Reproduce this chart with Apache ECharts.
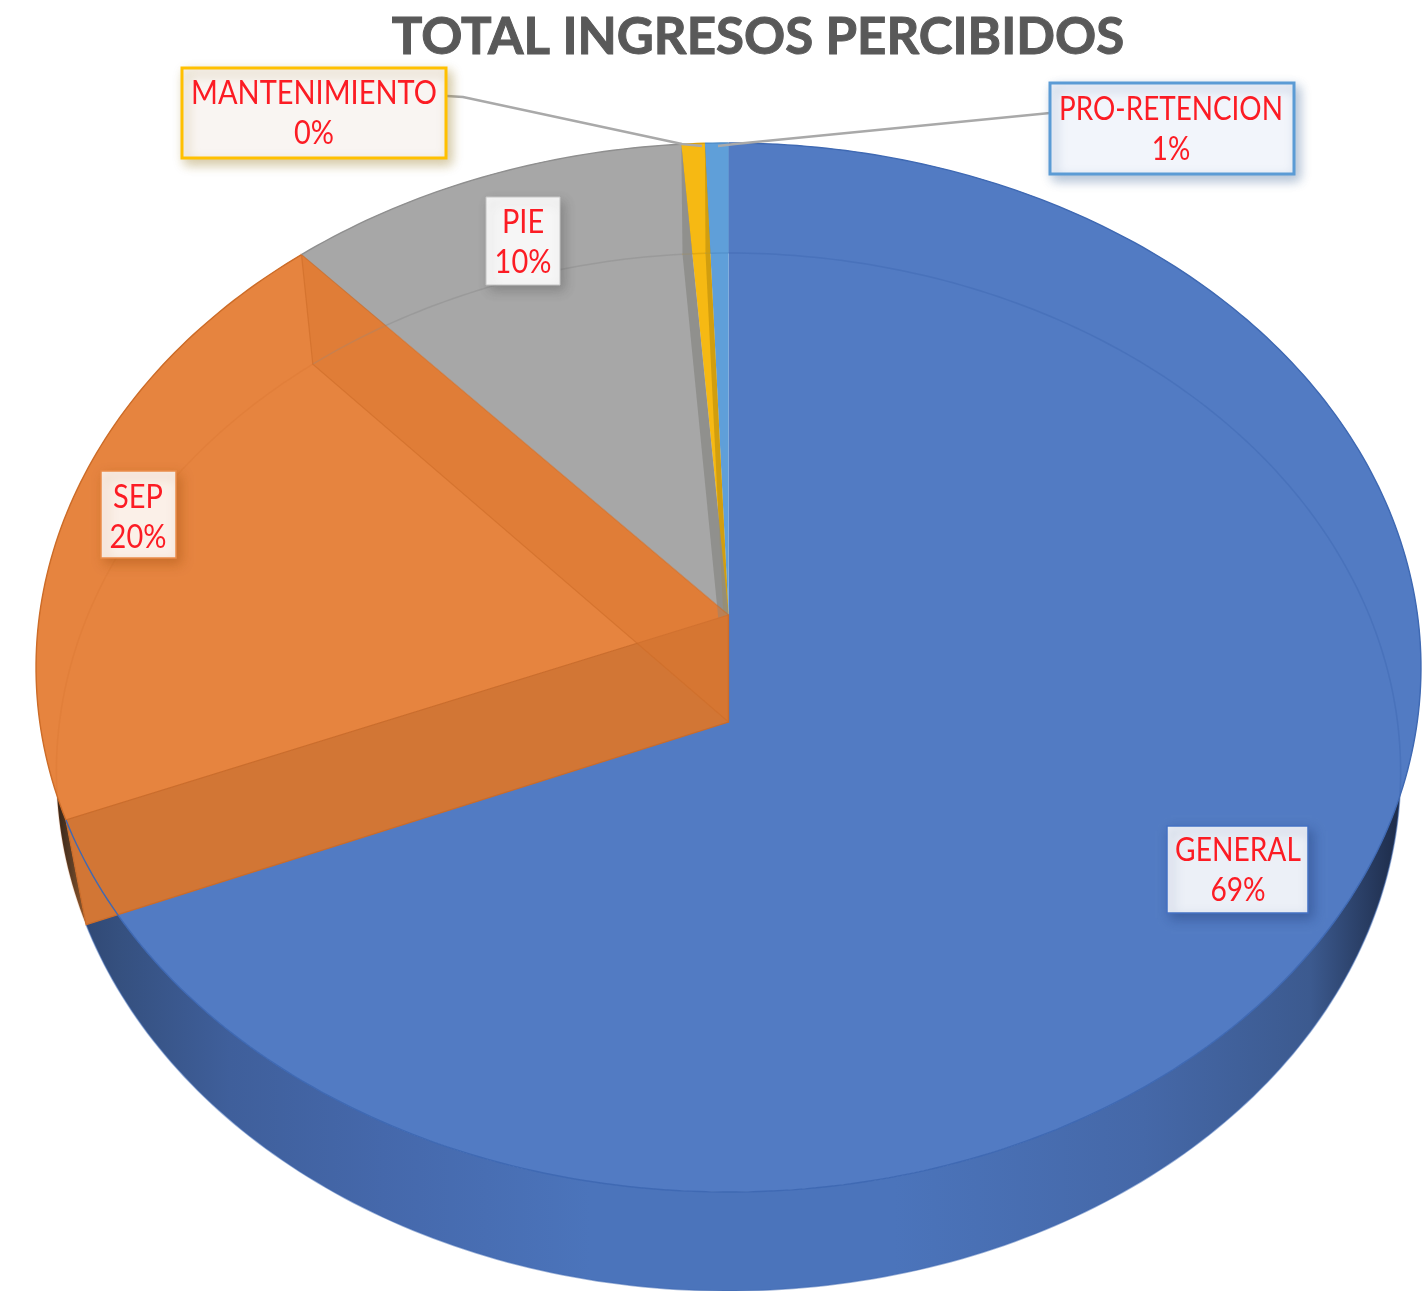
<!DOCTYPE html>
<html>
<head>
<meta charset="utf-8">
<title>TOTAL INGRESOS PERCIBIDOS</title>
<style>
  html, body { margin: 0; padding: 0; background: #fff; }
  #main { width: 1422px; height: 1291px; }
</style>
<script src="https://cdn.jsdelivr.net/npm/echarts@6/dist/echarts.min.js"></script>
</head>
<body>
<div id="main"></div>
<script>
const categories = ['GENERAL', 'SEP', 'PIE', 'MANTENIMIENTO', 'PRO-RETENCION'];
const values = [68.8, 19.6, 10.4, 0.6, 0.6];
const percentLabels = ['69%', '20%', '10%', '0%', '1%'];

const faceColors = ['#527bc3', '#e6843f', '#a7a7a7', '#f6b913', '#5f9fd9'];
const rimColors = ['#3f69b3', '#cd6c28', '#8f8f8f', '#d99f0c', '#4f8cc6'];
const rimAlpha = [0.5, 0.18, 0.55, 0.6, 0.6];
const cutColors = ['#d27635', 'rgba(218,118,48,0.5)', 'rgba(140,140,136,0.85)', 'rgba(205,155,15,0.9)', 'rgba(60,105,175,0.9)'];

// the pie is seen in perspective: the two discs are projected circles
const topDisc = { cx: 728.5, cy: 615, r: 689, b: -457.7, c: 0.1001 };
const botDisc = { cx: 728.5, cy: 722, r: 669, b: -444.6, c: 0.0963 };

const total = values.reduce((a, b) => a + b, 0);
let running = 0;
const sliceData = values.map((v, i) => {
  const row = [running / total, (running + v) / total, i];
  running += v;
  return row;
});

function discPoint(d, f) {
  const a = f * Math.PI * 2;
  const u = Math.cos(a), w = 1 + d.c * u;
  return [d.cx + d.r * Math.sin(a) / w, (d.cy + d.b * u) / w];
}
function arc(d, from, to) {
  const n = Math.max(2, Math.ceil((to - from) * 400));
  const pts = [];
  for (let k = 0; k <= n; k++) pts.push(discPoint(d, from + (to - from) * k / n));
  return pts;
}

const sideFills = [
  new echarts.graphic.LinearGradient(36, 0, 1421, 0, [
    { offset: 0, color: '#2b3f66' },
    { offset: 0.06, color: '#35507f' },
    { offset: 0.14, color: '#3f5f9b' },
    { offset: 0.25, color: '#4568ab' },
    { offset: 0.4, color: '#4b74bb' },
    { offset: 0.62, color: '#4b74bb' },
    { offset: 0.8, color: '#4568a8' },
    { offset: 0.92, color: '#3c5a8f' },
    { offset: 0.985, color: '#1d2b48' },
    { offset: 1, color: '#1a2740' }
  ], true),
  new echarts.graphic.LinearGradient(44, 0, 90, 0, [
    { offset: 0, color: '#c8712f' },
    { offset: 0.2, color: '#2a1d14' },
    { offset: 0.6, color: '#5b3d25' },
    { offset: 1, color: '#a8622c' }
  ], true),
  '#8a8a8a', '#c99a10', '#4a80b8'
];

function layer(name, z, build) {
  return {
    type: 'custom',
    name: name,
    coordinateSystem: 'none',
    silent: true,
    z: z,
    data: sliceData,
    renderItem: (params, api) => build(api.value(0), api.value(1), api.value(2))
  };
}

const sideLayer = layer('side', 1, (from, to, i) => ({
  type: 'polygon',
  shape: { points: arc(topDisc, from, to).concat(arc(botDisc, from, to).reverse()) },
  style: { fill: sideFills[i] }
}));

const faceLayer = layer('face', 2, (from, to, i) => ({
  type: 'polygon',
  shape: { points: [[topDisc.cx, topDisc.cy]].concat(arc(topDisc, from, to)) },
  style: { fill: faceColors[i] }
}));

const backArcLayer = layer('bottom rim', 3, (from, to, i) => ({
  type: 'polyline',
  shape: { points: arc(botDisc, from, to) },
  style: { fill: null, stroke: rimColors[i], lineWidth: 1.5, opacity: rimAlpha[i] }
}));

function cutWall(f, i, edge) {
  return {
    type: 'polygon',
    shape: { points: [[topDisc.cx, topDisc.cy], discPoint(topDisc, f), discPoint(botDisc, f), [botDisc.cx, botDisc.cy]] },
    style: { fill: cutColors[i], stroke: edge, lineWidth: 1.2 }
  };
}
// cut faces, the last slices first so that the SEP walls end up over the rest
const wallLayer = {
  type: 'custom',
  name: 'walls',
  coordinateSystem: 'none',
  silent: true,
  z: 4,
  data: [sliceData[4], sliceData[3], sliceData[2], sliceData[1]],
  renderItem: (params, api) => {
    const i = api.value(2);
    // SEP shows both of its cut faces, the others only the one at their end
    if (i === 1) {
      return {
        type: 'group',
        children: [cutWall(api.value(0), 0, '#cb6c2a'), cutWall(api.value(1), 1, 'rgba(205,108,40,0.6)')]
      };
    }
    return cutWall(api.value(1), i, 'rgba(0,0,0,0)');
  }
};

const topRimLayer = layer('top rim', 5, (from, to, i) => ({
  type: 'polyline',
  shape: { points: arc(topDisc, from, to) },
  style: { fill: null, stroke: rimColors[i], lineWidth: 1.4 }
}));

const labelBoxes = [
  { i: 0, x: 1167, y: 826, w: 141, h: 87, tx: 1238, ty: 871, sx: 0.88, fill: '#ecf0f7', border: '#4472c4', bw: 1.5, shadow: 'rgba(40,70,130,0.5)' },
  { i: 1, x: 101, y: 471, w: 75, h: 87, tx: 138, ty: 517.5, sx: 0.905, fill: '#fbf0e8', border: '#ea8c4a', bw: 1.5, shadow: 'rgba(170,85,20,0.5)' },
  { i: 2, x: 486, y: 197, w: 74, h: 88, tx: 523, ty: 243, sx: 0.905, fill: '#f6f6f6', border: '#c4c4c4', bw: 1, shadow: 'rgba(90,90,90,0.45)' },
  { i: 3, x: 182, y: 68, w: 264, h: 90, tx: 314, ty: 113.5, sx: 0.905, fill: '#f9f5f2', border: '#ffc000', bw: 3, shadow: 'rgba(150,120,30,0.4)' },
  { i: 4, x: 1050, y: 83, w: 244, h: 91, tx: 1171, ty: 129.5, sx: 0.87, fill: '#f2f5fb', border: '#5b9bd5', bw: 3, shadow: 'rgba(60,100,150,0.4)' }
];

const leaderLines = [
  [[447, 96], [463, 97], [682, 144], [702, 146]],
  [[1050, 113], [735, 144], [718, 146]]
];

const graphics = [];
leaderLines.forEach(pts => graphics.push({
  type: 'polyline',
  z: 20,
  shape: { points: pts },
  style: { fill: null, stroke: '#a9a9a9', lineWidth: 2.6 }
}));
labelBoxes.forEach(b => {
  graphics.push({
    type: 'rect',
    z: 21,
    shape: { x: b.x, y: b.y, width: b.w, height: b.h },
    style: {
      fill: b.fill, stroke: b.border, lineWidth: b.bw,
      shadowBlur: 11, shadowOffsetX: 4, shadowOffsetY: 5, shadowColor: b.shadow
    }
  });
  // Lato runs wider than the original font, so squeeze it a little
  graphics.push({
    type: 'text',
    z: 22,
    x: b.tx,
    y: b.ty,
    scaleX: b.sx,
    style: {
      x: 0,
      y: 0,
      text: categories[b.i] + '\n' + percentLabels[b.i],
      align: 'center',
      verticalAlign: 'middle',
      lineHeight: 40,
      fontFamily: 'Lato',
      fontSize: 32,
      fill: '#fc1c24'
    }
  });
});

const chart = echarts.init(document.getElementById('main'), null, { renderer: 'canvas' });
chart.setOption({
  animation: false,
  backgroundColor: '#ffffff',
  title: {
    text: 'TOTAL INGRESOS PERCIBIDOS',
    left: 753,
    top: 7,
    textAlign: 'center',
    textStyle: {
      fontFamily: 'Lato', fontWeight: 'bold', fontSize: 51, color: '#595959',
      textBorderColor: '#595959', textBorderWidth: 1
    }
  },
  series: [sideLayer, faceLayer, backArcLayer, wallLayer, topRimLayer],
  graphic: { elements: graphics }
});
</script>
</body>
</html>
